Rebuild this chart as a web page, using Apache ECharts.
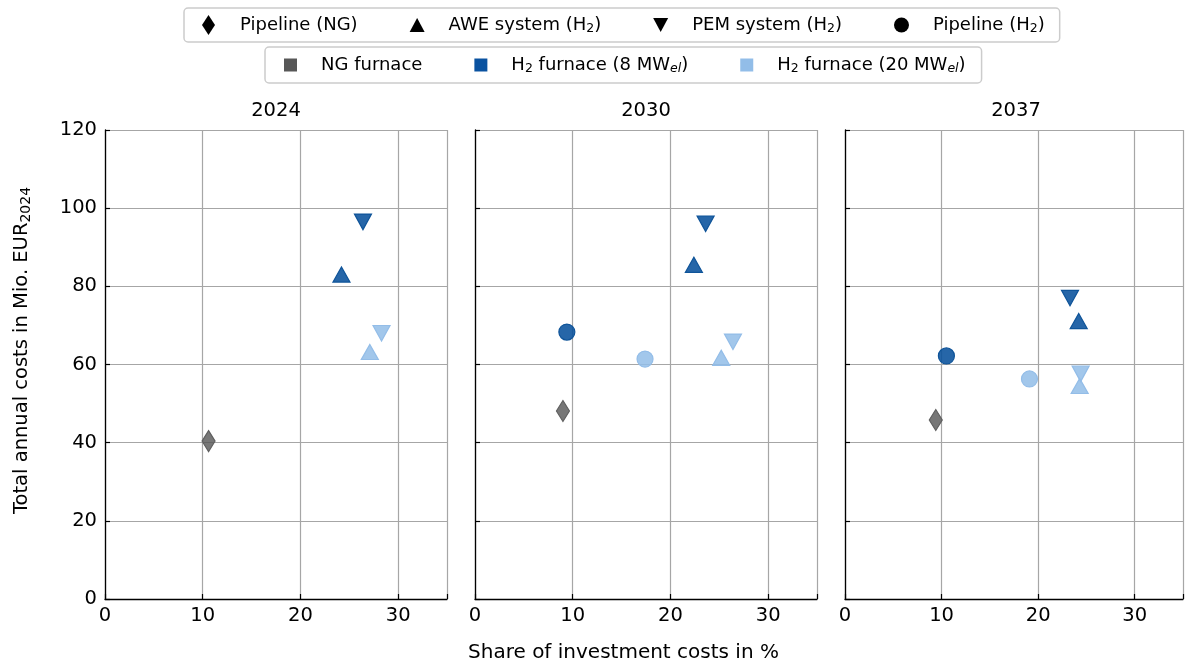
<!DOCTYPE html>
<html>
<head>
<meta charset="utf-8">
<script src="https://cdn.jsdelivr.net/npm/echarts@6/dist/echarts.min.js"></script>
<style>
  html, body { margin: 0; padding: 0; background: #fff; }
  #chart { width: 1186px; height: 664px; }
</style>
</head>
<body>
<div id="chart"></div>
<script>
// Panels (years) and axis ticks
const years = ['2024', '2030', '2037'];
const xTicks = [0, 10, 20, 30];
const yTicks = [0, 20, 40, 60, 80, 100, 120];

// [share of investment costs %, total annual costs Mio. EUR2024] per year (null = not available)
const ngPipeline   = [[10.6, 40.4], [9.0, 48.1], [9.4, 45.8]];
const awe8         = [[24.2, 83.0], [22.4, 85.5], [24.2, 71.1]];
const pem8         = [[26.4, 96.5], [23.6, 96.0], [23.3, 77.0]];
const pipeline8    = [null, [9.4, 68.3], [10.5, 62.2]];
const awe20        = [[27.1, 63.2], [25.2, 61.7], [24.3, 54.5]];
const pem20        = [[28.3, 68.0], [26.4, 65.8], [24.4, 57.6]];
const pipeline20   = [null, [17.4, 61.4], [19.1, 56.3]];

// Legend entries
const techLegend = ['Pipeline (NG)', 'AWE system (H2)', 'PEM system (H2)', 'Pipeline (H2)'];
const furnaceLegend = ['NG furnace', 'H2 furnace (8 MWel)', 'H2 furnace (20 MWel)'];

const FONT = 'DejaVu Sans';
const FS = 19.5;
const colNG = { fill: 'rgba(85,85,85,0.8)', line: '#5f5f5f' };
const col8  = { fill: 'rgba(8,81,156,0.88)', line: '#0f5499' };
const col20 = { fill: 'rgba(146,189,232,0.85)', line: '#93bde8' };
const DOWN = 'path://M0,0L20,0L10,18Z';

const symbols = {
  diamond: { symbol: 'diamond', size: [13, 21] },
  up:      { symbol: 'triangle', size: [17, 15] },
  down:    { symbol: DOWN, size: [17, 15.5] },
  circle:  { symbol: 'circle', size: 16 }
};

const panelLeft = [105, 475, 845];
const grids = panelLeft.map(l => ({ left: l, top: 130, width: 342, height: 469 }));

const xAxes = grids.map((g, i) => ({
  type: 'value', gridIndex: i, min: 0, max: 35, interval: 10,
  axisLine: { show: true, onZero: false, lineStyle: { color: '#000', width: 1.3 } },
  axisTick: { show: true, inside: true, length: 5, lineStyle: { color: '#000', width: 1.2 } },
  axisLabel: {
    fontFamily: FONT, fontSize: FS, color: '#000', margin: 7,
    formatter: v => (xTicks.indexOf(v) >= 0 ? String(v) : '')
  },
  splitLine: { show: true, lineStyle: { color: '#a6a6a6', width: 1.2 } }
}));

const yAxes = grids.map((g, i) => ({
  type: 'value', gridIndex: i, min: 0, max: 120, interval: 20,
  axisLine: { show: true, onZero: false, lineStyle: { color: '#000', width: 1.3 } },
  axisTick: { show: true, inside: true, length: 5, lineStyle: { color: '#000', width: 1.2 } },
  axisLabel: {
    show: i === 0, fontFamily: FONT, fontSize: FS, color: '#000', margin: 8,
    formatter: v => (yTicks.indexOf(v) >= 0 ? String(v) : '')
  },
  splitLine: { show: true, lineStyle: { color: '#a6a6a6', width: 1.2 } },
  name: i === 0 ? 'Total annual costs in Mio. EUR{sub|2024}' : '',
  nameLocation: 'middle', nameRotate: 90, nameGap: 72,
  nameTextStyle: {
    fontFamily: FONT, fontSize: FS, color: '#000', padding: [0, 0, 0, 28],
    rich: { sub: { fontFamily: FONT, fontSize: 14, color: '#000', padding: [9, 0, 0, 0] } }
  }
}));

function scatter(name, arr, panel, shape, col) {
  const pt = arr[panel];
  return {
    type: 'scatter', name: name + ' ' + years[panel],
    xAxisIndex: panel, yAxisIndex: panel,
    symbol: symbols[shape].symbol, symbolSize: symbols[shape].size,
    symbolKeepAspect: false,
    itemStyle: { color: col.fill, borderColor: col.line, borderWidth: 1.2, opacity: 1 },
    emphasis: { disabled: true },
    data: pt ? [pt] : [],
    z: 5
  };
}

const series = [];
years.forEach((y, p) => {
  series.push(scatter('ngPipeline', ngPipeline, p, 'diamond', colNG));
  series.push(scatter('pipeline8', pipeline8, p, 'circle', col8));
  series.push(scatter('pipeline20', pipeline20, p, 'circle', col20));
  series.push(scatter('awe8', awe8, p, 'up', col8));
  series.push(scatter('pem8', pem8, p, 'down', col8));
  series.push(scatter('awe20', awe20, p, 'up', col20));
  series.push(scatter('pem20', pem20, p, 'down', col20));
});

// Empty series that carry the legend entries
const techIcons = [
  'path://M6.5,0L13,10L6.5,20L0,10Z',
  'path://M7.5,0L15,14L0,14Z',
  'path://M0,0L15,0L7.5,14Z',
  'circle'
];
techLegend.forEach(n => series.push({ type: 'scatter', name: n, data: [], xAxisIndex: 0, yAxisIndex: 0, itemStyle: { color: '#000', opacity: 1 } }));
const furnaceColors = ['#575757', '#0a52a0', '#92bde8'];
furnaceLegend.forEach((n, i) => series.push({ type: 'scatter', name: n, data: [], xAxisIndex: 0, yAxisIndex: 0, itemStyle: { color: furnaceColors[i], opacity: 1 } }));

const legendRich = {
  t:   { fontFamily: FONT, fontSize: 18, color: '#000', lineHeight: 22 },
  sub: { fontFamily: FONT, fontSize: 12.5, color: '#000', padding: [8, 0, 0, 0], lineHeight: 22 },
  subi:{ fontFamily: FONT, fontSize: 12.5, color: '#000', fontStyle: 'italic', padding: [8, 0, 0, 0], lineHeight: 22 }
};
function legendLabel(name) {
  return name
    .replace(/^(.*?)H2(.*?)$/, (m, a, b) => `{t|${a}H}{sub|2}{t|${b}}`)
    .replace(/MWel/, 'MW}{subi|el}{t|')
    .replace(/^(?!\{)(.*)$/, '{t|$1}');
}

const legendBase = {
  orient: 'horizontal',
  backgroundColor: '#fff',
  borderColor: '#cccccc', borderWidth: 1.5, borderRadius: 4,
  selectedMode: false,
  itemGap: 52,
  symbolKeepAspect: true,
  textStyle: { fontFamily: FONT, fontSize: 18, color: '#000', padding: [0, 0, 0, 19], rich: legendRich },
  formatter: legendLabel
};

const option = {
  animation: false,
  backgroundColor: '#fff',
  grid: grids,
  xAxis: xAxes,
  yAxis: yAxes,
  series: series,
  legend: [
    Object.assign({}, legendBase, {
      left: 184, top: 8, padding: [6.5, 15, 6.5, 18],
      itemWidth: 15, itemHeight: 20,
      data: techLegend.map((n, i) => ({ name: n, icon: techIcons[i], itemStyle: { color: '#000', opacity: 1 } }))
    }),
    Object.assign({}, legendBase, {
      left: 265, top: 47, padding: [7.5, 16, 7.5, 19],
      itemWidth: 13, itemHeight: 13,
      data: furnaceLegend.map((n, i) => ({ name: n, icon: 'rect', itemStyle: { color: furnaceColors[i], opacity: 1 } }))
    })
  ],
  title: years.map((y, i) => ({
    text: y, left: panelLeft[i] + 166, top: 96, textAlign: 'center',
    textStyle: { fontFamily: FONT, fontSize: FS, fontWeight: 'normal', color: '#000' }
  })).concat([{
    text: 'Share of investment costs in %', left: 618.5, top: 638, textAlign: 'center',
    textStyle: { fontFamily: FONT, fontSize: 20, fontWeight: 'normal', color: '#000' }
  }])
};

const chart = echarts.init(document.getElementById('chart'), null, { renderer: 'canvas' });
chart.setOption(option);
</script>
</body>
</html>
